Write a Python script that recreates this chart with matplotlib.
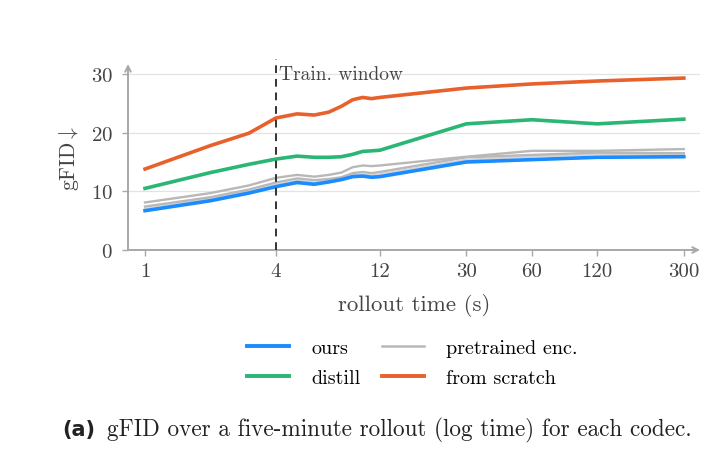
import matplotlib
matplotlib.use("Agg")
import matplotlib.pyplot as plt
from matplotlib.lines import Line2D

plt.rcParams['font.family'] = ['cmr10', 'DejaVu Serif']
plt.rcParams['mathtext.fontset'] = 'cm'
plt.rcParams['axes.formatter.use_mathtext'] = True

# ---- data ----
t = [1, 2, 3, 4, 5, 6, 7, 8, 9, 10, 11, 12, 30, 60, 120, 300]
ours = [6.7, 8.4, 9.7, 10.8, 11.5, 11.2, 11.6, 12.0, 12.5, 12.6, 12.4, 12.5, 15.0, 15.4, 15.8, 15.9]
distill = [10.5, 13.2, 14.6, 15.5, 16.0, 15.8, 15.8, 15.9, 16.3, 16.8, 16.9, 17.0, 21.5, 22.2, 21.5, 22.3]
scratch = [13.8, 17.8, 19.9, 22.5, 23.2, 23.0, 23.5, 24.5, 25.6, 26.0, 25.8, 26.0, 27.6, 28.3, 28.8, 29.3]
pre_a = [8.1, 9.7, 11.0, 12.3, 12.8, 12.5, 12.8, 13.2, 14.1, 14.4, 14.3, 14.4, 15.9, 16.9, 16.9, 17.2]
pre_b = [7.4, 9.0, 10.3, 11.5, 12.2, 11.9, 12.1, 12.4, 13.1, 13.3, 13.1, 13.3, 15.8, 16.2, 16.6, 16.5]
pre_c = [7.0, 8.7, 10.0, 11.1, 11.8, 11.5, 11.8, 12.1, 12.8, 12.9, 12.7, 12.9, 15.4, 15.9, 16.3, 16.3]
xticks = [1, 4, 12, 30, 60, 120, 300]
yticks = [0, 10, 20, 30]

C_OURS = '#1a8cff'
C_DIST = '#2ab673'
C_SCR = '#e8612c'
C_PRE = '#b8b8b8'
AX_C = '#a8a8a8'
TXT_C = '#444444'

fig = plt.figure(figsize=(7.28, 4.64), dpi=100)
ax = fig.add_axes([128/728, 1-251/464, 572/728, 186/464])
ax.set_xscale('log')
ax.set_xlim(0.835, 356)
ax.set_ylim(0, 31.7)

for s in ax.spines.values():
    s.set_visible(False)

# grid
for yv in yticks[1:]:
    ax.axhline(yv, color='#e3e3e3', lw=0.9, zorder=0)

# axes with arrows
ax.annotate('', xy=(1.0, 0), xytext=(0, 0), xycoords='axes fraction',
            arrowprops=dict(arrowstyle='->', color=AX_C, lw=1.4, shrinkA=0, shrinkB=0))
ax.annotate('', xy=(0, 1.0), xytext=(0, 0), xycoords='axes fraction',
            arrowprops=dict(arrowstyle='->', color=AX_C, lw=1.4, shrinkA=0, shrinkB=0))

ax.plot(t, pre_c, color=C_PRE, lw=1.5, alpha=0.6, zorder=2)
ax.plot(t, pre_b, color=C_PRE, lw=1.7, zorder=2)
ax.plot(t, pre_a, color=C_PRE, lw=1.7, zorder=2)
ax.plot(t, ours, color=C_OURS, lw=2.6, zorder=3)
ax.plot(t, distill, color=C_DIST, lw=2.6, zorder=3)
ax.plot(t, scratch, color=C_SCR, lw=2.6, zorder=3)

ax.plot([4, 4], [0, 32.6], color='#333333', lw=1.4, ls=(0, (4, 3)), zorder=4, clip_on=False)
ax.text(4.12, 30, 'Train. window', fontsize=14, color=TXT_C, va='center', ha='left')

ax.set_xticks(xticks)
ax.set_xticklabels([str(v) for v in xticks])
ax.minorticks_off()
ax.set_yticks(yticks)
ax.tick_params(axis='both', colors=AX_C, labelcolor=TXT_C, labelsize=15,
               length=4, width=1.0, direction='out')
ax.tick_params(axis='x', pad=5)
ax.tick_params(axis='y', pad=7)

ax.set_xlabel('rollout time (s)', fontsize=16.5, color=TXT_C, labelpad=9)
ax.set_ylabel('gFID$\\downarrow$', fontsize=15.5, color=TXT_C, labelpad=7)

handles = [Line2D([], [], color=C_OURS, lw=2.8),
           Line2D([], [], color=C_DIST, lw=2.8),
           Line2D([], [], color=C_PRE, lw=1.8),
           Line2D([], [], color=C_SCR, lw=2.8)]
labels = ['ours', 'distill', 'pretrained enc.', 'from scratch']
fig.legend(handles, labels, ncol=2, loc='center left', bbox_to_anchor=(247/728, 1-364/464),
           frameon=False, fontsize=14.5, handlelength=2.1, columnspacing=1.05,
           handletextpad=1.1, labelspacing=0.6, borderpad=0, borderaxespad=0)

fig.text(62/728, 1-430/464, '(a)', fontsize=15, fontweight='bold', family='DejaVu Sans',
         ha='left', va='center', color='#222222')
fig.text(107/728, 1-430/464, 'gFID over a five-minute rollout (log time) for each codec.',
         fontsize=16.7, ha='left', va='center', color='#222222')

fig.savefig('out.png', dpi=100)
